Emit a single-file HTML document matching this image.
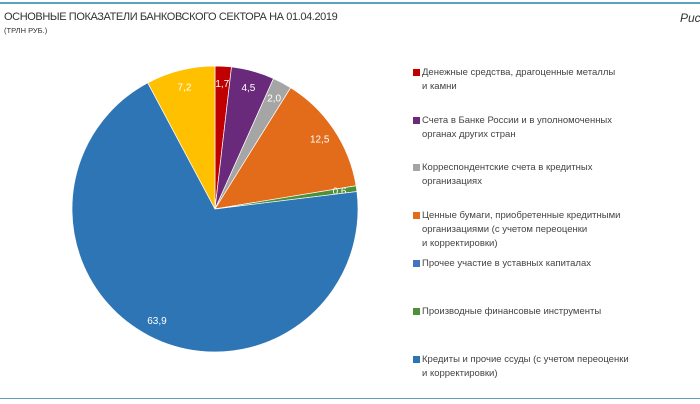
<!DOCTYPE html>
<html><head><meta charset="utf-8"><style>
body{margin:0;width:700px;height:404px;background:#fff;font-family:"Liberation Sans",sans-serif;position:relative;overflow:hidden}
.t{position:absolute;color:#333}
.leg{position:absolute;left:413px;font-size:9.5px;color:#444;line-height:14px}
.leg i{position:absolute;left:0;top:3px;width:7px;height:7px}
.leg span{display:block;margin-left:9px}
</style></head><body>
<div style="position:absolute;left:0;top:2px;width:700px;height:2px;background:#5aa3b8"></div>
<div style="position:absolute;left:0;top:398px;width:700px;height:1px;background:#5aa3b8"></div>
<div class="t" style="left:4px;top:11px;font-size:11px;letter-spacing:-0.4px">ОСНОВНЫЕ ПОКАЗАТЕЛИ БАНКОВСКОГО СЕКТОРА НА 01.04.2019</div>
<div class="t" style="left:4px;top:26px;font-size:7.5px">(ТРЛН РУБ.)</div>
<div class="t" style="left:680px;top:11px;font-size:12px;font-style:italic">Рис</div>
<svg id="pie" width="700" height="404" style="position:absolute;left:0;top:0"></svg>
<div id="legend"></div>
<script>
const labels=["1,7","4,5","2,0","12,5","0,6","63,9","7,2"];
const values=[1.7,4.5,2.0,12.5,0.6,63.9,7.2];
const colors=["#c00000","#692a7c","#a5a5a5","#e36c1a","#4e8f3a","#2e75b6","#ffc000"];
const legendText=[["Денежные средства, драгоценные металлы","и камни"],["Счета в Банке России и в уполномоченных","органах других стран"],["Корреспондентские счета в кредитных","организациях"],["Ценные бумаги, приобретенные кредитными","организациями (с учетом переоценки","и корректировки)"],["Прочее участие в уставных капиталах"],["Производные финансовые инструменты"],["Кредиты и прочие ссуды (с учетом переоценки","и корректировки)"]];
const legendColors=["#c00000","#692a7c","#a5a5a5","#e36c1a","#4472c4","#4e8f3a","#2e75b6"];
const cx=215,cy=209,r=143,NS="http://www.w3.org/2000/svg";
const svg=document.getElementById('pie');
const total=values.reduce((a,b)=>a+b,0);
let acc=0;
function pt(a,rr){return [cx+rr*Math.sin(a),cy-rr*Math.cos(a)];}
values.forEach((v,i)=>{
  const a0=acc/total*2*Math.PI;acc+=v;const a1=acc/total*2*Math.PI;
  const p0=pt(a0,r),p1=pt(a1,r);
  const p=document.createElementNS(NS,'path');
  p.setAttribute('d',`M${cx},${cy}L${p0[0]},${p0[1]}A${r},${r} 0 ${a1-a0>Math.PI?1:0} 1 ${p1[0]},${p1[1]}Z`);
  p.setAttribute('fill',colors[i]);p.setAttribute('stroke','#fff');p.setAttribute('stroke-width','0.7');
  
  
  svg.appendChild(p);
  const m=pt((a0+a1)/2,r*0.88);
  const t=document.createElementNS(NS,'text');
  t.setAttribute('x',m[0]);t.setAttribute('y',m[1]+3.5);t.setAttribute('text-anchor','middle');
  t.setAttribute('font-size','10');t.setAttribute('fill','#fff');t.setAttribute('font-family','Liberation Sans, sans-serif');
  t.textContent=labels[i];
  
  
  svg.appendChild(t);
});
const tops=[66,114,161,209,257,305,353];
const lg=document.getElementById('legend');
legendText.forEach((lines,i)=>{
  const d=document.createElement('div');d.className='leg';d.style.top=tops[i]+'px';
  
  
  d.innerHTML=`<i style="background:${legendColors[i]}"></i>`+lines.map(l=>`<span>${l}</span>`).join('');
  lg.appendChild(d);
});
</script>
</body></html>
